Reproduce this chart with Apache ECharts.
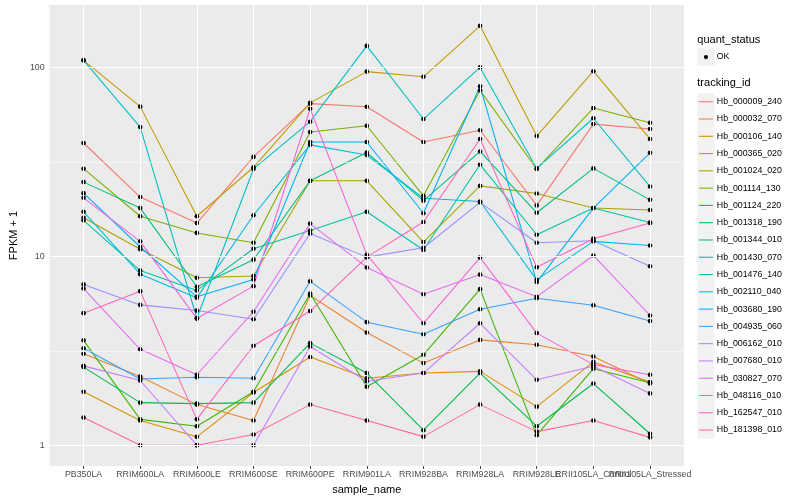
<!DOCTYPE html>
<html><head><meta charset="utf-8">
<script src="https://cdn.jsdelivr.net/npm/echarts@6/dist/echarts.min.js"></script>
<style>html,body{margin:0;padding:0;background:#fff}#chart{width:800px;height:500px}</style>
</head><body><div id="chart"></div>
<script>
// ---------- data ----------
const categories = ['PB350LA','RRIM600LA','RRIM600LE','RRIM600SE','RRIM600PE','RRIM901LA','RRIM928BA','RRIM928LA','RRIM928LE','RRII105LA_Control','RRII105LA_Stressed'];
const trackingIds = ['Hb_000009_240','Hb_000032_070','Hb_000106_140','Hb_000365_020','Hb_001024_020','Hb_001114_130','Hb_001124_220','Hb_001318_190','Hb_001344_010','Hb_001430_070','Hb_001476_140','Hb_002110_040','Hb_003680_190','Hb_004935_060','Hb_006162_010','Hb_007680_010','Hb_030827_070','Hb_048116_010','Hb_162547_010','Hb_181398_010'];
const quantStatus = ['OK'];
const yTickLabels = [1, 10, 100];

const Hb_000009_240 = [39.8, 20.6, 15.0, 33.6, 64.3, 61.9, 40.3, 46.5, 18.6, 50.1, 47.2];
const Hb_000032_070 = [3.05, 2.31, 1.64, 1.35, 6.2, 3.95, 2.72, 3.61, 3.4, 2.95, 2.12];
const Hb_000106_140 = [1.92, 1.35, 1.107, 1.9, 2.93, 2.26, 2.41, 2.46, 1.6, 2.76, 2.16];
const Hb_000365_020 = [109, 62, 16.3, 29.6, 64.9, 95, 89.2, 166, 43.3, 95.5, 41.8];
const Hb_001024_020 = [16.0, 10.9, 7.7, 7.87, 25.1, 25.1, 11.9, 23.6, 21.5, 18.0, 17.6];
const Hb_001114_130 = [29.1, 16.3, 13.3, 11.8, 45.5, 49.1, 20.9, 75.6, 29.0, 60.9, 50.9];
const Hb_001124_220 = [3.59, 1.37, 1.26, 1.92, 6.35, 2.04, 3.01, 6.7, 1.13, 2.54, 2.14];
const Hb_001318_190 = [2.59, 1.68, 1.66, 1.68, 3.47, 2.41, 1.2, 2.41, 1.26, 2.12, 1.15];
const Hb_001344_010 = [24.7, 18.0, 6.9, 9.6, 25.1, 35.4, 19.7, 35.9, 17.0, 29.2, 19.9];
const Hb_001430_070 = [15.5, 8.4, 6.6, 10.97, 13.7, 17.2, 10.8, 30.6, 13.0, 18.0, 15.1];
const Hb_001476_140 = [109, 48.3, 4.7, 29.0, 51.6, 130, 53.3, 100, 29.2, 53.8, 23.4];
const Hb_002110_040 = [17.2, 8.04, 6.04, 16.5, 38.9, 34.4, 20.3, 19.5, 7.5, 12.0, 11.4];
const Hb_003680_190 = [21.6, 11.2, 6.1, 7.54, 40.3, 40.3, 16.9, 79.4, 7.3, 18.0, 35.3];
const Hb_004935_060 = [3.26, 2.24, 2.29, 2.26, 7.37, 4.48, 3.87, 5.24, 6.0, 5.5, 4.54];
const Hb_006162_010 = [7.1, 5.53, 5.16, 4.64, 13.2, 9.9, 11.1, 19.3, 11.8, 12.1, 8.86];
const Hb_007680_010 = [2.63, 2.2, 1.0, 1.0, 3.33, 2.18, 2.41, 4.42, 2.22, 2.62, 1.88];
const Hb_030827_070 = [6.75, 3.22, 2.36, 5.09, 14.9, 8.73, 6.3, 8.0, 6.1, 10.1, 4.86];
const Hb_048116_010 = [20.4, 12.0, 4.68, 6.95, 60.4, 10.2, 4.42, 9.84, 3.92, 2.67, 2.36];
const Hb_162547_010 = [5.0, 6.54, 1.37, 3.36, 5.13, 9.9, 15.2, 41.8, 8.74, 12.4, 15.0];
const Hb_181398_010 = [1.40, 1.0, 1.0, 1.14, 1.64, 1.35, 1.11, 1.64, 1.18, 1.35, 1.10];

const seriesValues = [Hb_000009_240, Hb_000032_070, Hb_000106_140, Hb_000365_020, Hb_001024_020, Hb_001114_130, Hb_001124_220, Hb_001318_190, Hb_001344_010, Hb_001430_070, Hb_001476_140, Hb_002110_040, Hb_003680_190, Hb_004935_060, Hb_006162_010, Hb_007680_010, Hb_030827_070, Hb_048116_010, Hb_162547_010, Hb_181398_010];

// ---------- style ----------
const colors = ['#F8766D','#EA8331','#D89000','#C09B00','#A3A500','#7CAE00','#39B600','#00BB4E','#00BF7D','#00C1A3','#00BFC4','#00BAE0','#00B0F6','#35A2FF','#9590FF','#C77CFF','#E76BF3','#FA62DB','#FF62BC','#FF6C91'];
const FONT = '"Liberation Sans", Arial, Helvetica, sans-serif';
const PANEL = {left: 40, top: 5, right: 684, bottom: 468.7};
const W = 800, H = 500;
const xIdx = categories.map((c, i) => i);
const xEven = xIdx.filter(i => i % 2 === 0);
const xOdd = xIdx.filter(i => i % 2 === 1);
const minorY = [Math.sqrt(10), Math.sqrt(1000)];

const chart = echarts.init(document.getElementById('chart'), null, {renderer: 'canvas', width: W, height: H});

const gridLines = [];
xIdx.forEach(i => gridLines.push({xAxis: i, lineStyle: {color: '#fff', width: 1.07, type: 'solid'}}));
yTickLabels.forEach(v => gridLines.push({yAxis: v, lineStyle: {color: '#fff', width: 1.07, type: 'solid'}}));
minorY.forEach(v => gridLines.push({yAxis: v, lineStyle: {color: '#fff', width: 0.53, type: 'solid'}}));

const series = [{
  type: 'line', name: '__grid', data: [], silent: true, z: 1,
  markLine: {silent: true, symbol: ['none', 'none'], label: {show: false}, animation: false, data: gridLines}
}];
trackingIds.forEach((id, k) => {
  series.push({
    type: 'line', name: id, z: 2, silent: true,
    data: seriesValues[k].map((v, i) => [i, v]),
    showSymbol: false, symbol: 'none',
    lineStyle: {color: colors[k], width: 1.07},
    itemStyle: {color: colors[k]}
  });
});
const okPoints = [];
seriesValues.forEach(vals => vals.forEach((v, i) => okPoints.push([i, v])));
series.push({
  type: 'scatter', name: quantStatus[0], z: 3, silent: true,
  data: okPoints, symbol: 'circle', symbolSize: 4.6,
  itemStyle: {color: '#000', borderWidth: 0, opacity: 1}
});

// legend (drawn as graphic keys)
const graphic = [];
const LX = 697.3, KEY = 17.28;
graphic.push({type: 'text', left: LX, top: 34.5, style: {text: 'quant_status', font: '11px ' + FONT, fill: '#000'}});
graphic.push({type: 'rect', shape: {x: LX, y: 48.4, width: KEY, height: KEY}, style: {fill: '#F2F2F2'}});
graphic.push({type: 'circle', shape: {cx: LX + KEY / 2, cy: 48.4 + KEY / 2, r: 2.1}, style: {fill: '#000'}});
graphic.push({type: 'text', x: LX + KEY + 2.2, y: 48.4 + KEY / 2, style: {text: quantStatus[0], font: '8.8px ' + FONT, fill: '#000', verticalAlign: 'middle'}});
graphic.push({type: 'text', left: LX, top: 77.5, style: {text: 'tracking_id', font: '11px ' + FONT, fill: '#000'}});
trackingIds.forEach((id, k) => {
  const y0 = 93.1 + k * KEY;
  graphic.push({type: 'rect', shape: {x: LX, y: y0, width: KEY, height: KEY}, style: {fill: '#F2F2F2'}});
  graphic.push({type: 'line', shape: {x1: LX + 1.7, y1: y0 + KEY / 2, x2: LX + KEY - 1.7, y2: y0 + KEY / 2}, style: {stroke: colors[k], lineWidth: 1.07}});
  graphic.push({type: 'text', x: LX + KEY + 2.2, y: y0 + KEY / 2, style: {text: id, font: '8.8px ' + FONT, fill: '#000', verticalAlign: 'middle'}});
});

function makeXAxis(ticks, withName) {
  const ax = {
    type: 'value', min: -0.6, max: categories.length - 1 + 0.6, position: 'bottom', offset: 0,
    axisLine: {show: false},
    axisTick: {show: true, customValues: ticks, length: 2.7, lineStyle: {color: '#333', width: 1}},
    axisLabel: {customValues: ticks, formatter: v => categories[Math.round(v)] || '', color: '#4D4D4D', fontSize: 8.8, fontFamily: FONT, margin: 4, hideOverlap: false, showMinLabel: true, showMaxLabel: true},
    splitLine: {show: false}
  };
  if (withName) {
    ax.name = 'sample_name'; ax.nameLocation = 'middle'; ax.nameGap = 14;
    ax.nameTextStyle = {color: '#000', fontSize: 11, fontFamily: FONT, verticalAlign: 'top'};
  }
  return ax;
}

const option = {
  animation: false,
  backgroundColor: '#fff',
  textStyle: {fontFamily: FONT},
  grid: {
    left: PANEL.left, top: PANEL.top, width: PANEL.right - PANEL.left, height: PANEL.bottom - PANEL.top,
    show: true, backgroundColor: '#EBEBEB', borderWidth: 0
  },
  xAxis: [makeXAxis(xEven, true), makeXAxis(xOdd, false)],
  yAxis: {
    type: 'log', logBase: 10, min: 0.775, max: 214,
    axisLine: {show: false},
    axisTick: {show: true, customValues: yTickLabels, length: 2.7, lineStyle: {color: '#333', width: 1}},
    axisLabel: {customValues: yTickLabels, formatter: v => String(Math.round(v)), color: '#4D4D4D', fontSize: 8.8, fontFamily: FONT, margin: 5},
    splitLine: {show: false}, minorSplitLine: {show: false},
    name: 'FPKM + 1', nameLocation: 'middle', nameGap: 23, nameRotate: 90,
    nameTextStyle: {color: '#000', fontSize: 11, fontFamily: FONT}
  },
  series: series,
  graphic: graphic
};
chart.setOption(option);
</script></body></html>
